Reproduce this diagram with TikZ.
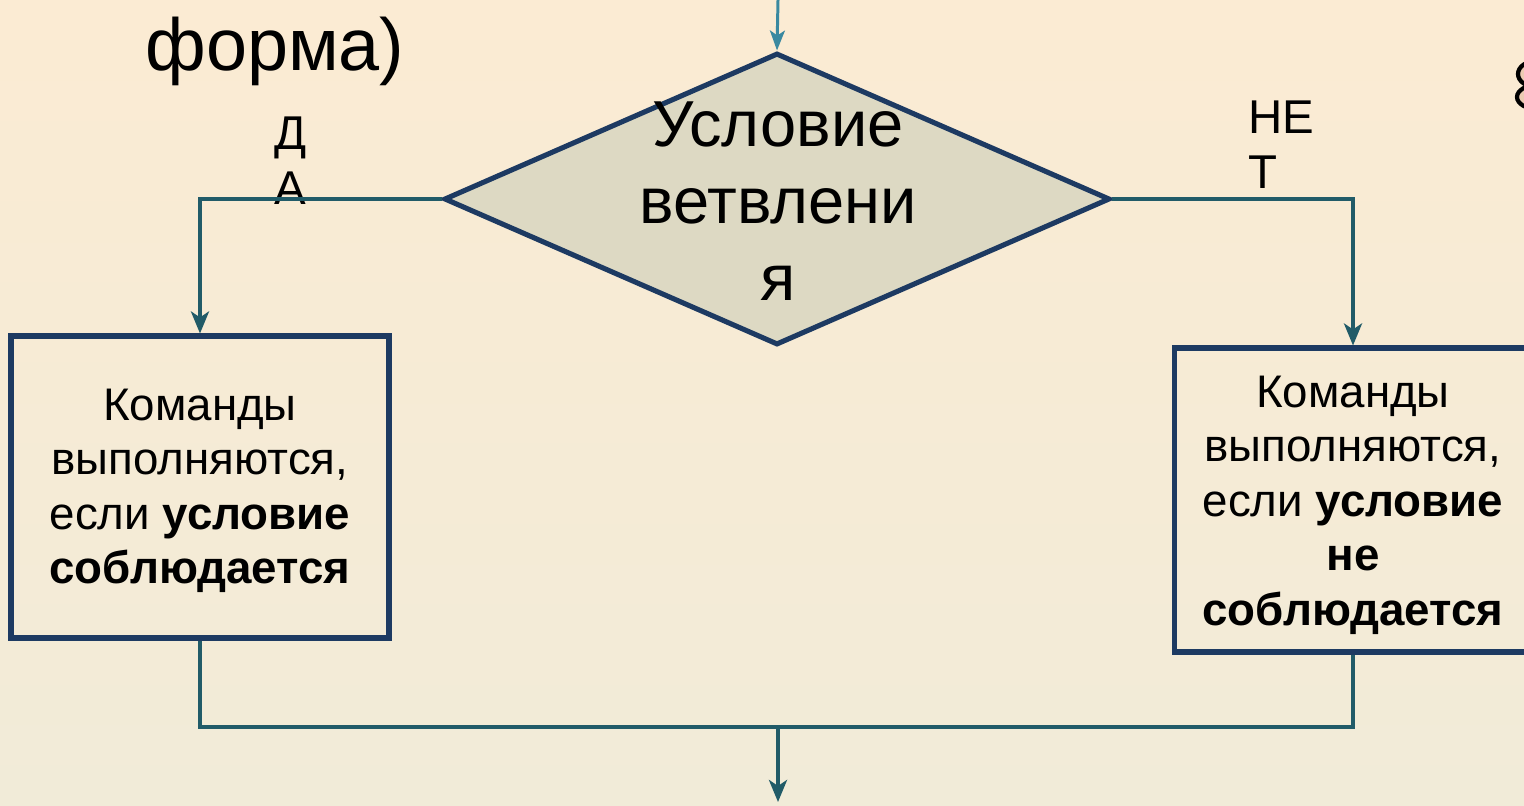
\documentclass[tikz,border=0pt]{standalone}
\usepackage{fontspec}
\setmainfont{Liberation Sans}
\usetikzlibrary{shapes.geometric,arrows.meta}
\definecolor{bgtop}{HTML}{FBEBD3}
\definecolor{bgbot}{HTML}{F1EBD8}
\definecolor{navy}{HTML}{1D3A62}
\definecolor{teal}{HTML}{215B68}
\definecolor{lteal}{HTML}{3A89A0}
\definecolor{dfill}{HTML}{DDD9C3}
\definecolor{pinkish}{HTML}{EBCBB3}
\tikzset{
  conn/.style={draw=teal, line width=2.4pt},
  arr/.style={conn, -{Stealth[length=0.44cm,width=0.36cm,inset=0.12cm]}},
  boxnode/.style={draw=navy, line width=2.9pt, inner sep=0pt},
  boxtext/.style={align=center, inner sep=0pt, font=\fontsize{26}{31}\selectfont},
  lbl/.style={font=\fontsize{27}{31}\selectfont, align=left, inner sep=0pt, anchor=north west},
}
\begin{document}
\begin{tikzpicture}[x=0.02cm,y=-0.02cm]
\useasboundingbox (0,0) rectangle (1524,805);
\shade[top color=bgtop, bottom color=bgbot] (0,0) rectangle (1524,805);
\begin{scope}
\clip (0,0) rectangle (1524,805);
% title
\node[anchor=base west, inner sep=0pt, font=\fontsize{42}{48}\selectfont] (title) at (145,70) {форма)};
% partial glyph at the right edge
\draw[line width=2.4pt, fill=pinkish] (1536,74) ellipse [x radius=18, y radius=13];
\draw[line width=2.4pt, fill=pinkish] (1537,97) ellipse [x radius=20, y radius=12];
% diamond
\node[diamond, draw=navy, fill=dfill, line width=2.9pt, inner sep=0pt,
      minimum width=13.32cm, minimum height=5.84cm] (cond) at (777,199) {};
\node[align=center, inner sep=0pt, font=\fontsize{37}{44}\selectfont] (condtext) at (778,201)
  {Условие\\ветвлени\\я};
% boxes
\node[boxnode, minimum width=7.56cm, minimum height=6.04cm] (lbox) at (200,487) {};
\node[boxtext] (ltext) at (200,491)
  {Команды\\выполняются,\\если \textbf{условие}\\\textbf{соблюдается}};
\node[boxnode, minimum width=7.16cm, minimum height=6.08cm] (rbox) at (1353,500) {};
\node[boxtext] (rtext) at (1353,505)
  {Команды\\выполняются,\\если \textbf{условие}\\\textbf{не}\\\textbf{соблюдается}};
% labels
\node[lbl] (yes) at (274,117) {Д\\А};
\node[lbl] (no) at (1248,101) {НЕ\\Т};
% coordinates
\coordinate (in) at (778,0);
\coordinate (join) at (778,727);
\coordinate (out) at (778,802);
% connectors
\draw[line width=1.7pt, draw=lteal, -{Stealth[length=0.4cm,width=0.3cm,inset=0.1cm]}] (in) -- (cond.north);
\draw[arr] (cond.west) -| (lbox.north);
\draw[arr] (cond.east) -| (rbox.north);
\draw[conn] (lbox.south) |- (join) -| (rbox.south);
\draw[arr] (join) -- (out);
\end{scope}
\end{tikzpicture}
\end{document}
